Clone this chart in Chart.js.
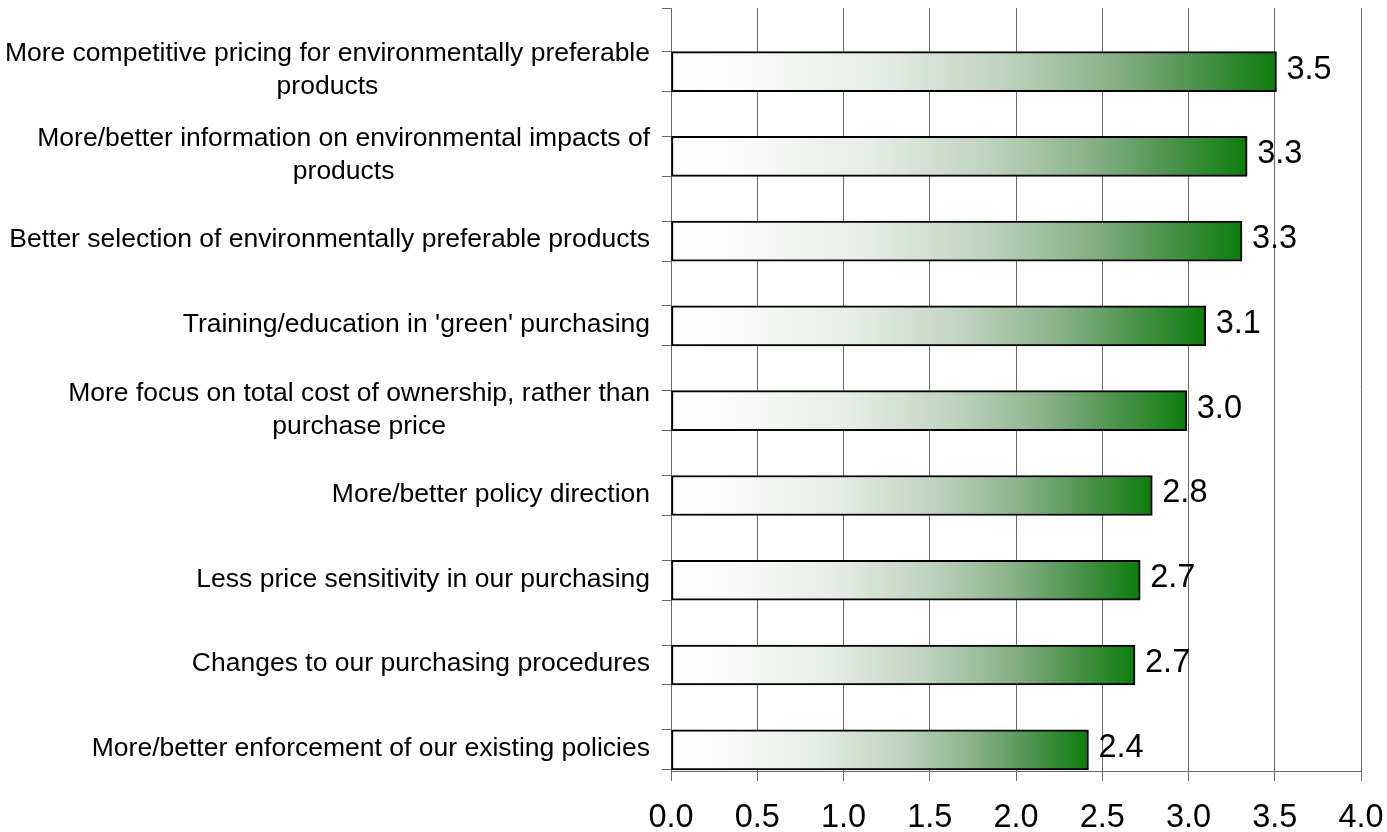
<!DOCTYPE html>
<html>
<head>
<meta charset="utf-8">
<title>Green purchasing drivers</title>
<script src="https://cdn.jsdelivr.net/npm/chart.js@4"></script>
<style>
    html, body { margin: 0; padding: 0; background: #ffffff; }
    #wrap { position: relative; width: 1387px; height: 832px; }
</style>
</head>
<body>
<div id="wrap"><canvas id="chart"></canvas></div>
<script>
// Chart data
const categories = [
    ['More competitive pricing for environmentally preferable', 'products'],
    ['More/better information on environmental impacts of', 'products'],
    ['Better selection of environmentally preferable products'],
    ["Training/education in 'green' purchasing"],
    ['More focus on total cost of ownership, rather than', 'purchase price'],
    ['More/better policy direction'],
    ['Less price sensitivity in our purchasing'],
    ['Changes to our purchasing procedures'],
    ['More/better enforcement of our existing policies']
];
const scores = [3.51, 3.34, 3.31, 3.10, 2.99, 2.79, 2.72, 2.69, 2.42];
const xTicks = [0, 0.5, 1, 1.5, 2, 2.5, 3, 3.5, 4];

const FONT = "'Liberation Sans', Arial, sans-serif";
const GRID = '#6a6a6a';
const HALF_BAR = 0.235;

// small tick marks on the category axis: top of axis plus both edges of every bar
const yTickValues = [-0.75];
categories.forEach((c, i) => {
    yTickValues.push(i - HALF_BAR, i, i + HALF_BAR);
});

function barGradient(ctx) {
    const chart = ctx.chart;
    if (!chart.chartArea || ctx.type !== 'data') return '#0f7f0f';
    const xs = chart.scales.x;
    const x0 = xs.getPixelForValue(0);
    const x1 = xs.getPixelForValue(ctx.raw.x);
    const g = chart.ctx.createLinearGradient(x0, 0, x1, 0);
    g.addColorStop(0, '#ffffff');
    g.addColorStop(0.12, '#fbfbfb');
    g.addColorStop(0.35, '#e6ece6');
    g.addColorStop(0.55, '#bfd3bf');
    g.addColorStop(0.72, '#8cb38c');
    g.addColorStop(0.86, '#4f944f');
    g.addColorStop(1, '#0c7d0c');
    return g;
}

// category labels: block right aligned to the axis, lines centred inside the block
const categoryLabels = {
    id: 'categoryLabels',
    afterDraw(chart) {
        const ctx = chart.ctx;
        const ys = chart.scales.y;
        const right = ys.right - 9 - 12;
        const lineHeight = 33;
        ctx.save();
        ctx.font = '26.5px ' + FONT;
        ctx.fillStyle = '#000000';
        ctx.textAlign = 'center';
        ctx.textBaseline = 'middle';
        categories.forEach((lines, i) => {
            const w = Math.max(...lines.map(l => ctx.measureText(l).width));
            const cx = right - w / 2;
            const cy = ys.getPixelForValue(i) - 1;
            const top = cy - (lines.length - 1) * lineHeight / 2;
            lines.forEach((l, k) => ctx.fillText(l, cx, top + k * lineHeight));
        });
        ctx.restore();
    }
};

// value labels to the right of each bar
const valueLabels = {
    id: 'valueLabels',
    afterDatasetsDraw(chart) {
        const ctx = chart.ctx;
        const meta = chart.getDatasetMeta(0);
        ctx.save();
        ctx.font = '32.5px ' + FONT;
        ctx.fillStyle = '#000000';
        ctx.textAlign = 'left';
        ctx.textBaseline = 'middle';
        meta.data.forEach((bar, i) => {
            ctx.fillText(scores[i].toFixed(1), bar.x + 10, bar.y - 2);
        });
        ctx.restore();
    }
};

const points = scores.map((v, i) => ({ x: v, y: i }));

new Chart(document.getElementById('chart'), {
    type: 'bar',
    data: {
        datasets: [{
            data: points,
            backgroundColor: barGradient,
            borderColor: '#000000',
            borderWidth: 2,
            borderSkipped: false,
            barThickness: 40
        }]
    },
    options: {
        indexAxis: 'y',
        responsive: true,
        maintainAspectRatio: false,
        animation: false,
        layout: {
            padding: { top: 8, right: 26, bottom: 0, left: 0 }
        },
        plugins: {
            legend: { display: false },
            tooltip: { enabled: false }
        },
        scales: {
            x: {
                type: 'linear',
                min: 0,
                max: 4,
                afterBuildTicks: s => { s.ticks = xTicks.map(v => ({ value: v })); },
                afterFit: s => {
                    s.height = 61;
                    s.paddingLeft = 0;
                    s.paddingRight = 0;
                },
                ticks: {
                    color: '#000000',
                    padding: 18,
                    font: { family: FONT, size: 32.5 },
                    callback: v => Number(v).toFixed(1)
                },
                grid: {
                    color: GRID,
                    lineWidth: 1,
                    tickLength: 10
                },
                border: { color: GRID, width: 1 }
            },
            y: {
                type: 'linear',
                reverse: true,
                offset: false,
                min: -0.75,
                max: 8.25,
                afterBuildTicks: s => { s.ticks = yTickValues.map(v => ({ value: v })); },
                afterFit: s => { s.width = 671; },
                ticks: { display: false },
                grid: {
                    offset: false,
                    drawOnChartArea: false,
                    tickLength: 9,
                    lineWidth: 1,
                    color: c => (c.tick && Number.isInteger(c.tick.value)) ? 'rgba(0,0,0,0)' : GRID
                },
                border: { color: GRID, width: 1 }
            }
        }
    },
    plugins: [categoryLabels, valueLabels]
});
</script>
</body>
</html>
